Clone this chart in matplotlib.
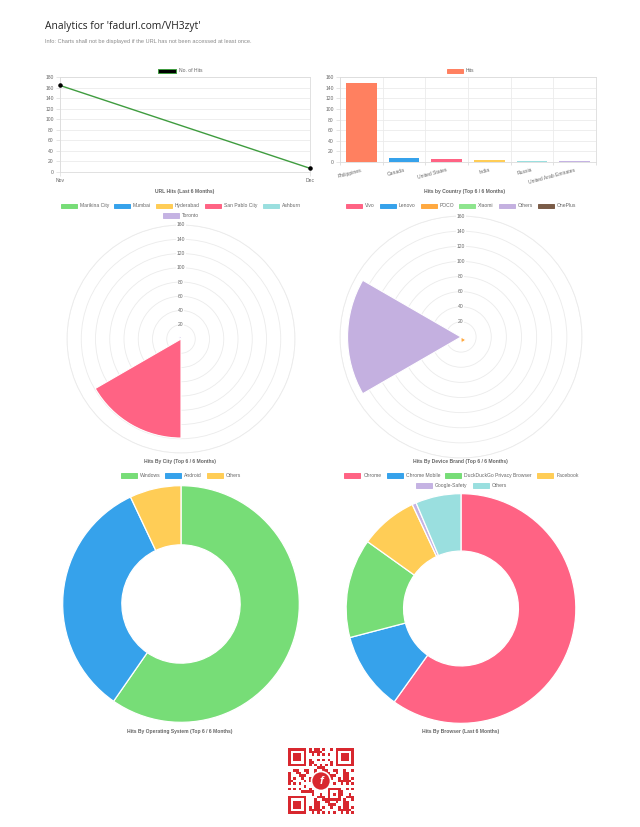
import matplotlib
matplotlib.use("Agg")
import matplotlib.pyplot as plt
from matplotlib.patches import Rectangle, Circle
import numpy as np

plt.rcParams["font.family"] = ["Liberation Sans", "DejaVu Sans"]

W, H = 640, 827

# ---- data ----
months = ["Nov", "Dec"]
month_hits = [164, 7]

countries = ["Philippines", "Canada", "United States", "India", "Russia",
             "United Arab Emirates"]
country_hits = [149, 7, 5, 4, 1, 1]

cities = ["Marikina City", "Mumbai", "Hyderabad", "San Pablo City", "Ashburn",
          "Toronto"]
city_hits = [1, 1, 1, 139, 1, 4]

brands = ["Vivo", "Lenovo", "POCO", "Xiaomi", "Others", "OnePlus"]
brand_hits = [1, 1, 7, 1, 150, 1]

os_names = ["Windows", "Android", "Others"]
os_hits = [102, 57, 12]

browsers = ["Chrome", "Chrome Mobile", "DuckDuckGo Privacy Browser", "Facebook",
            "Google-Safety", "Others"]
browser_hits = [103, 19, 24, 14, 1, 11]

# ---- colours ----
PINK = "#ff6384"
BLUE = "#36a2eb"
YELLOW = "#ffcd56"
GREEN = "#77dd77"
TEAL = "#9adfdf"
LAVENDER = "#c5b3e3"
LINE_GREEN = "#3f9c3f"
CORAL = "#ff8060"
GRID = "#ebebeb"
TXT = "#666666"

country_colors = [CORAL, BLUE, PINK, YELLOW, TEAL, LAVENDER]
city_colors = [GREEN, BLUE, YELLOW, PINK, TEAL, LAVENDER]
brand_colors = [PINK, BLUE, "#ffa940", "#8ee58e", "#c4b0e0", "#7a5c48"]
os_colors = [GREEN, BLUE, YELLOW]
browser_colors = [PINK, BLUE, GREEN, YELLOW, LAVENDER, TEAL]

FS = 3.6

fig = plt.figure(figsize=(W / 100, H / 100), dpi=100)
fig.patch.set_facecolor("white")


def rect(x0, y0, x1, y1):
    return [x0 / W, 1 - y1 / H, (x1 - x0) / W, (y1 - y0) / H]


def ftext(x, y, s, **kw):
    kw.setdefault("va", "center")
    kw.setdefault("fontsize", FS)
    kw.setdefault("color", TXT)
    fig.text(x / W, 1 - y / H, s, **kw)


def legend_item(x, y, color, label, edge=None, bw=16):
    fig.patches.append(Rectangle((x / W, 1 - (y + 2.2) / H), bw / W, 4.4 / H,
                                 transform=fig.transFigure, facecolor=color,
                                 edgecolor=edge or color, lw=0.7))
    ftext(x + bw + 3, y, label)


def style_axes(ax):
    for s in ax.spines.values():
        s.set_color("#dcdcdc")
        s.set_linewidth(0.6)
    ax.tick_params(labelsize=FS, colors=TXT, length=3, width=0.5, pad=1.5)
    ax.tick_params(axis="both", which="both", color="#dcdcdc")
    ax.set_axisbelow(True)


def polar_chart(cx, cy, R, values, colors):
    ax = fig.add_axes(rect(cx - R, cy - R, cx + R, cy + R), projection="polar")
    ax.set_theta_zero_location("N")
    ax.set_theta_direction(-1)
    n = len(values)
    width = 2 * np.pi / n
    theta = np.arange(n) * width + width / 2
    ax.bar(theta, values, width=width, color=colors, edgecolor="white",
           linewidth=0.8, zorder=2)
    ax.set_ylim(0, 160)
    ax.set_yticks(range(20, 161, 20))
    ax.set_yticklabels([])
    ax.set_xticks([])
    ax.grid(color=GRID, lw=0.6)
    ax.spines["polar"].set_color(GRID)
    ax.spines["polar"].set_linewidth(0.6)
    for r in range(20, 161, 20):
        ax.text(0, r, str(r), ha="center", va="center", fontsize=FS,
                color=TXT, zorder=3,
                bbox=dict(fc="white", ec="none", pad=0.4))
    return ax


def doughnut(cx, cy, R, values, colors):
    ax = fig.add_axes(rect(cx - R, cy - R, cx + R, cy + R))
    ax.pie(values, colors=colors, startangle=90, counterclock=False,
           radius=1, wedgeprops=dict(width=0.5, edgecolor="white",
                                     linewidth=0.9))
    ax.set_xlim(-1.01, 1.01)
    ax.set_ylim(-1.01, 1.01)
    ax.set_aspect("equal")
    return ax


# ---- header ----
ftext(45, 26, "Analytics for 'fadurl.com/VH3zyt'", fontsize=7.4,
      color="#222222", family=["Open Sans", "DejaVu Sans"])
ftext(45, 41, "Info: Charts shall not be displayed if the URL has not been "
      "accessed at least once.", fontsize=4.1, color="#8a8a8a")

# ---- line chart ----
ax = fig.add_axes(rect(60, 77, 310, 172))
xl = np.arange(len(months))
ax.plot(xl, month_hits, color=LINE_GREEN, lw=1.0, zorder=2)
ax.scatter(xl, month_hits, s=5, color="black", zorder=3, clip_on=False)
ax.set_xlim(0, len(months) - 1)
ax.set_ylim(0, 180)
ax.set_yticks(range(0, 181, 20))
ax.set_xticks(xl, months)
ax.grid(color=GRID, lw=0.6)
style_axes(ax)
legend_item(158, 70.7, "black", "No. of Hits", edge=LINE_GREEN, bw=18)
ftext(185, 191.5, "URL Hits (Last 6 Months)", ha="center", fontweight="bold")

# ---- bar chart ----
ax = fig.add_axes(rect(340, 77, 596, 162))
xb = np.arange(len(countries))
ax.bar(xb, country_hits, width=0.72, color=country_colors, zorder=2)
ax.set_xlim(-0.5, len(countries) - 0.5)
ax.set_ylim(0, 160)
ax.set_yticks(range(0, 161, 20))
ax.set_xticks(xb)
ax.set_xticklabels(countries, rotation=15, ha="right", rotation_mode="anchor")
ax.set_xticks(np.arange(-0.5, len(countries), 1), minor=True)
ax.grid(axis="y", color=GRID, lw=0.6)
ax.grid(axis="x", which="minor", color=GRID, lw=0.6)
style_axes(ax)
ax.tick_params(axis="x", which="major", length=0, pad=4)
legend_item(447, 70.7, CORAL, "Hits")
ftext(465, 191.5, "Hits by Country (Top 6 / 6 Months)", ha="center",
      fontweight="bold")

# ---- polar: city ----
polar_chart(181, 339, 114, city_hits, city_colors)
city_leg = [(61, 205.7), (114, 205.7), (156, 205.7), (205, 205.7),
            (262.7, 205.7), (163, 215.3)]
for (lx, ly), c, lab in zip(city_leg, city_colors, cities):
    legend_item(lx, ly, c, lab)
ftext(180, 461.5, "Hits By City (Top 6 / 6 Months)", ha="center",
      fontweight="bold")

# ---- polar: device brand ----
polar_chart(461, 337, 121, brand_hits, brand_colors)
brand_leg = [346, 380, 420.7, 459.3, 499, 537.7]
for lx, c, lab in zip(brand_leg, brand_colors, brands):
    legend_item(lx, 205.7, c, lab)
ftext(460, 461.5, "Hits By Device Brand (Top 6 / 6 Months)", ha="center",
      fontweight="bold")

# ---- doughnut: OS ----
doughnut(181, 604, 119.5, os_hits, os_colors)
os_leg = [120.7, 165.3, 206.7]
for lx, c, lab in zip(os_leg, os_colors, os_names):
    legend_item(lx, 475.7, c, lab)
ftext(180, 732, "Hits By Operating System (Top 6 / 6 Months)", ha="center",
      fontweight="bold")

# ---- doughnut: browser ----
doughnut(461, 608.5, 116, browser_hits, browser_colors)
br_leg = [(344.3, 475.7), (386.7, 475.7), (444.7, 475.7), (537.3, 475.7),
          (416, 485.3), (472.7, 485.3)]
for (lx, ly), c, lab in zip(br_leg, browser_colors, browsers):
    legend_item(lx, ly, c, lab)
ftext(461, 732, "Hits By Browser (Last 6 Months)", ha="center",
      fontweight="bold")

# ---- QR code (decorative) ----
N = 25
grid = np.zeros((N, N), dtype=int)
for i in range(N):
    for j in range(N):
        grid[i, j] = 1 if ((i * i * 3 + j * 7 + i * j * 5) % 11) < 5 else 0
for i in range(N):
    grid[6, i] = (i + 1) % 2
    grid[i, 6] = (i + 1) % 2


def finder(r0, c0):
    grid[max(r0 - 1, 0):r0 + 8, max(c0 - 1, 0):c0 + 8] = 0
    grid[r0:r0 + 7, c0:c0 + 7] = 1
    grid[r0 + 1:r0 + 6, c0 + 1:c0 + 6] = 0
    grid[r0 + 2:r0 + 5, c0 + 2:c0 + 5] = 1


finder(0, 0)
finder(0, N - 7)
finder(N - 7, 0)
grid[15:20, 15:20] = 1
grid[16:19, 16:19] = 0
grid[17, 17] = 1
qax = fig.add_axes(rect(288, 748, 354, 814))
qax.imshow(grid, cmap=matplotlib.colors.ListedColormap(["white", "#d8282f"]),
           interpolation="nearest", extent=(0, N, N, 0))
qax.add_patch(Circle((12.5, 12.5), 3.6, facecolor="#d8282f",
                     edgecolor="white", lw=1.2, zorder=3))
qax.text(12.6, 12.6, "f", ha="center", va="center", color="white",
         fontsize=8, fontweight="bold", style="italic", zorder=4)
qax.set_xlim(0, N)
qax.set_ylim(N, 0)
qax.axis("off")

fig.savefig("out.png", dpi=100, facecolor="white")
